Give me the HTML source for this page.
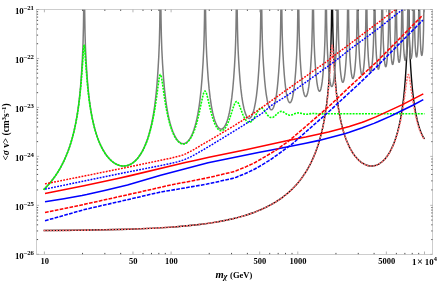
<!DOCTYPE html>
<html><head><meta charset="utf-8"><title>plot</title>
<style>
html,body{margin:0;padding:0;background:#fff;}
body{width:437px;height:282px;overflow:hidden;}
svg{display:block;filter:blur(0.3px);}
text{font-family:"Liberation Serif",serif;font-weight:bold;font-size:8.9px;fill:#000;}
</style></head><body>
<svg width="437" height="282" viewBox="0 0 437 282">
<rect width="437" height="282" fill="#fff"/>
<defs><clipPath id="c"><rect x="36.7" y="9.5" width="396.0" height="244.8"/></clipPath></defs>
<g clip-path="url(#c)" fill="none" stroke-linejoin="round">
<path d="M43.57 230.57L77.11 230.26L104.92 229.81L128.73 229.19L149.45 228.38L159 227.89L167.99 227.33L176.48 226.72L184.52 226.04L192.16 225.29L199.43 224.47L206.35 223.57L212.96 222.59L219.49 221.48L225.72 220.29L231.68 218.99L237.38 217.6L242.82 216.1L248.04 214.49L253.03 212.78L257.82 210.95L262.41 208.99L266.79 206.92L271 204.71L275.01 202.38L278.86 199.92L282.54 197.32L286.06 194.57L289.41 191.68L292.61 188.64L295.66 185.45L298.56 182.11L301.3 178.61L303.91 174.94L306.37 171.12L308.69 167.11L310.86 162.96L312.9 158.63L314.82 154.08L316.61 149.35L318.27 144.44L319.81 139.29L321.24 133.92L322.56 128.31L323.76 122.46L324.88 116.18L325.91 109.51L326.82 102.58L327.64 95.28L328.37 87.64L329.01 79.49L329.66 69.87L330.27 59.4L330.94 44.28L331.4 26.08L331.7 3.26L331.93 -30L332.27 -30L332.42 -4.34L332.63 15.68L332.92 32L333.32 45.83L333.85 57.63L334.67 71.22L335.51 82.56L336.42 92.4L337.53 101.79L338.81 110.41L340.27 118.4L341.07 122.13L341.93 125.74L342.84 129.22L343.8 132.5L344.81 135.66L345.85 138.64L346.98 141.53L348.14 144.25L349.36 146.84L350.61 149.25L351.91 151.5L353.26 153.62L354.65 155.57L356.08 157.37L357.57 159.03L359.07 160.5L360.61 161.82L362.18 162.95L363.78 163.92L365.38 164.7L367 165.3L368.61 165.72L370.23 165.96L371.85 166.01L373.47 165.87L375.07 165.55L376.63 165.05L378.16 164.38L379.66 163.53L381.15 162.5L382.6 161.31L384 159.95L385.38 158.42L386.73 156.71L388.02 154.86L389.28 152.84L390.5 150.66L391.68 148.31L392.8 145.84L393.89 143.19L394.94 140.37L395.93 137.44L397.57 131.88L399.05 125.92L400.4 119.48L401.64 112.44L402.73 105.04L403.7 97.04L404.56 88.43L405.32 79.02L406.06 67.87L406.71 56.35L407.13 46.81L407.43 37.14L407.7 24.77L407.91 10.08L408.21 -30L408.54 -30L408.56 -29.32L408.71 -3.8L408.92 16L409.19 31.33L409.55 44.34L410 55.11L410.69 67.09L411.49 78.61L412.33 88.34L413.32 97.44L414.46 105.75L415.76 113.26L417.2 119.99L417.99 123.06L418.82 126L419.68 128.67L420.58 131.15L421.51 133.43L422.48 135.51L423.47 137.35L424.5 138.98" stroke="#0c0c0c" stroke-width="1.4"/>
<path d="M43.57 230.57L73.85 230.3L99.4 229.92L121.51 229.41L140.94 228.75L158.42 227.92L174.16 226.9L181.45 226.31L188.42 225.67L195.07 224.97L201.43 224.22L207.72 223.37L213.74 222.46L219.51 221.48L225.05 220.42L230.37 219.29L235.47 218.08L240.39 216.79L245.11 215.42L249.66 213.96L254.04 212.41L258.27 210.76L262.33 209.02L266.23 207.19L269.99 205.26L273.61 203.23L277.07 201.1L280.52 198.78L283.81 196.36L287 193.8L290.02 191.13L292.92 188.35L295.7 185.42L298.35 182.38L300.88 179.19L303.28 175.89L305.57 172.44L307.74 168.84L309.8 165.1L311.74 161.22L313.57 157.19L315.28 153.02L316.9 148.67L318.33 144.42L319.66 140.04L320.92 135.46L322.1 130.68L323.21 125.68L324.21 120.58L325.17 115.16L326.04 109.55L327.4 99.27L328.58 88.06L329.72 74.33L331.4 49.92L331.76 46.4L331.93 45.52L332.08 45.25L332.23 45.49L332.39 46.21L332.73 49.31L334.73 77.16L335.51 86L336.35 94L337.3 101.62L338.37 108.8L339.53 115.4L340.82 121.63L342.39 127.97L344.1 133.83L345.99 139.25L346.98 141.76L348.02 144.2L349.11 146.51L350.23 148.7L351.4 150.77L352.61 152.76L353.85 154.59L355.13 156.3L356.44 157.88L357.78 159.33L359.76 161.18L361.78 162.74L363.83 164.01L365.93 164.98L368.04 165.64L370.16 166L372.25 166.04L374.35 165.77L376.39 165.2L378.4 164.32L380.39 163.13L382.31 161.65L384.18 159.88L385.99 157.82L387.74 155.47L389.41 152.85L390.86 150.26L392.25 147.46L393.59 144.43L394.84 141.23L396.04 137.81L397.2 134.13L398.29 130.29L399.34 126.17L400.29 122.02L401.19 117.7L402.04 113.13L402.88 108.21L404.16 99.76L406.33 83.5L407.07 78.56L407.4 76.87L407.7 75.65L408 74.87L408.29 74.57L408.44 74.59L408.6 74.74L408.9 75.39L409.22 76.55L409.57 78.23L410.29 82.78L412.33 97.29L413.45 104.42L414.94 112.46L416.54 119.57L417.41 122.9L418.33 126L419.28 128.88L420.25 131.49L421.26 133.87L422.31 136.03L423.4 137.95L424.5 139.61" stroke="#ff7070" stroke-width="1.6" stroke-dasharray="2.0 1.1"/>
<path d="M43.57 189.74L46.62 186.66L49.51 183.44L52.25 180.08L54.86 176.56L57.34 172.88L59.66 169.06L61.85 165.08L63.93 160.9L65.87 156.56L67.68 152.07L69.38 147.37L70.96 142.46L72.43 137.35L73.78 132.03L75.03 126.42L76.18 120.61L77.24 114.39L78.22 107.84L79.09 100.95L79.87 93.73L80.56 86.24L81.19 78.1L81.83 68.25L82.43 57.86L83.05 42.97L83.47 25.79L83.78 2.7L84.01 -30L84.33 -30L84.35 -29.1L84.6 6.6L85 32.24L85.42 46.49L86.04 59.82L86.65 69.86L87.28 78.79L87.91 86.37L88.6 93.35L89.38 100.06L90.25 106.44L91.21 112.36L92.25 117.96L93.45 123.48L94.75 128.61L96.16 133.44L97.68 137.97L99.32 142.19L101.07 146.11L102.94 149.71L104.9 152.96L107 155.93L109.19 158.55L110.31 159.71L111.47 160.8L112.63 161.77L113.82 162.66L115.02 163.44L116.22 164.12L117.43 164.7L118.65 165.17L119.87 165.54L121.11 165.8L122.33 165.96L123.55 166.01L124.73 165.96L125.91 165.81L127.09 165.56L128.25 165.21L129.4 164.77L130.54 164.22L131.66 163.57L132.77 162.84L133.85 162L134.92 161.08L137.02 158.93L139.02 156.42L140.94 153.53L142.75 150.33L144.46 146.78L146.08 142.88L147.59 138.7L149.02 134.11L150.33 129.24L151.55 124.02L152.67 118.45L153.7 112.53L154.63 106.27L155.47 99.68L156.23 92.61L156.9 85.29L157.53 77.09L158.18 67.16L158.75 56.99L159.36 42.23L159.78 24.46L160.08 0.15L160.27 -30L160.62 -30L160.81 -0.89L161.03 19.03L161.36 35.59L161.82 49.44L162.56 63.78L163.59 78.92L164.58 90.13L165.74 100.18L166.44 105.16L167.21 109.86L168.02 114.26L168.9 118.38L169.83 122.21L170.82 125.76L171.87 129.02L172.98 131.99L174.14 134.66L175.34 136.99L176.6 139.01L177.87 140.66L179.19 141.96L180.5 142.89L181.17 143.22L181.83 143.45L182.52 143.6L183.19 143.64L183.85 143.6L184.5 143.46L185.17 143.23L185.82 142.91L187.11 141.99L188.37 140.72L189.59 139.11L190.79 137.12L191.93 134.83L193.03 132.19L194.08 129.25L195.07 126.02L196.02 122.44L196.92 118.57L197.76 114.42L198.54 109.98L199.26 105.28L199.95 100.17L201.09 89.72L202.08 77.82L203.11 61.74L203.8 47.46L204.2 34.36L204.5 18L204.73 -2.89L204.9 -30L205.24 -30L205.4 -4.66L205.61 15.48L205.89 31.86L206.25 44.66L206.73 55.66L207.45 68.02L208.27 79.44L209.13 88.94L210.18 97.96L211.36 105.81L212.01 109.36L212.69 112.65L213.42 115.67L214.18 118.43L214.98 120.91L215.8 123.06L216.63 124.88L217.51 126.42L218.41 127.62L219.3 128.47L220.2 128.99L220.65 129.12L221.11 129.16L221.57 129.12L222.02 128.99L222.92 128.47L223.8 127.63L224.67 126.43L225.53 124.9L226.35 123.07L227.15 120.9L227.91 118.46L228.63 115.75L229.34 112.69L230.01 109.36L230.63 105.77L231.8 97.68L232.81 88.54L233.68 78.27L234.52 65.85L235.19 53.68L235.64 42.02L235.97 29.27L236.22 13.96L236.41 -4.97L236.56 -30L236.9 -30L237.05 -4.98L237.24 13.84L237.49 29.05L237.82 41.71L238.16 50.76L238.63 60.06L239.32 70.88L240.04 80.36L240.86 88.94L241.78 96.41L242.79 102.82L243.91 108.27L244.5 110.56L245.13 112.63L245.78 114.4L246.42 115.82L247.09 116.94L247.76 117.74L248.44 118.24L249.13 118.4L249.82 118.24L250.5 117.75L251.17 116.95L251.83 115.8L252.48 114.35L253.11 112.59L253.72 110.54L254.31 108.17L255.42 102.61L256.41 96.05L257.3 88.37L258.1 79.56L258.84 69.29L259.53 57.81L259.97 48.49L260.31 38.27L260.58 26.55L260.81 11.25L261.11 -30L261.45 -30L261.76 10.35L261.99 25.84L262.27 38.33L262.56 46.92L262.92 54.95L263.42 63.61L264.01 72.34L264.71 81L265.45 88.29L266.27 94.57L267.19 99.93L267.68 102.25L268.18 104.22L268.69 105.91L269.21 107.28L269.74 108.38L270.29 109.19L270.84 109.67L271.4 109.83L271.95 109.68L272.5 109.2L273.05 108.4L273.59 107.29L274.12 105.84L274.63 104.1L275.61 99.77L276.5 94.33L277.32 87.79L278.04 80.36L278.75 71.29L279.38 61.51L279.85 52.52L280.2 44.01L280.48 34.08L280.71 22.6L280.9 8.58L281.19 -30L281.51 -30L281.53 -29.91L281.8 8.01L282.01 23.24L282.25 35.15L282.77 50.31L283.59 65.02L284.23 74L284.9 81.53L285.61 87.81L286.35 92.91L287.19 97.17L287.62 98.87L288.06 100.23L288.52 101.32L288.98 102.09L289.43 102.56L289.89 102.71L290.37 102.55L290.84 102.05L291.3 101.25L291.76 100.11L292.2 98.7L292.63 96.94L293.47 92.5L294.21 87.15L294.92 80.52L295.59 72.54L296.23 63.03L296.69 54.97L297.03 47.36L297.32 38.85L297.55 29.42L297.91 4.26L298.14 -30L298.48 -30L298.75 6.89L299.15 32.23L299.59 46.73L300.21 59.41L300.79 68.06L301.4 75.68L302.02 81.99L302.67 87.04L303.38 91.14L303.76 92.82L304.14 94.18L304.52 95.23L304.92 96.01L305.3 96.45L305.7 96.61L306.1 96.46L306.5 96L306.9 95.21L307.3 94.09L307.68 92.69L308.06 90.95L308.77 86.71L309.41 81.46L310.04 74.86L310.65 66.89L311.22 57.79L311.59 50.64L311.87 43.36L312.31 25.95L312.61 3.27L312.84 -30L313.19 -30L313.43 5.97L313.81 30.9L314.2 44.35L314.71 55.71L315.21 63.72L315.76 71.07L316.33 77.26L316.92 82.27L317.53 86.13L318.18 88.97L318.5 89.96L318.84 90.7L319.19 91.14L319.53 91.28L319.87 91.13L320.21 90.69L320.56 89.94L320.88 88.94L321.53 86.05L322.16 81.95L322.75 76.76L323.32 70.32L323.89 62.38L324.37 54.23L324.92 40.63L325.32 23.23L325.61 0.2L325.8 -30L326.14 -30L326.35 1.08L326.61 22.42L327 39.34L327.55 53.17L327.97 60.36L328.48 67.5L329 73.33L329.53 78.12L330.06 81.73L330.63 84.42L330.92 85.34L331.21 86.01L331.49 86.41L331.8 86.55L332.1 86.41L332.39 86.01L332.69 85.3L332.98 84.35L333.55 81.6L334.1 77.74L334.63 72.76L335.17 66.45L335.68 58.95L336.08 51.64L336.58 38.45L336.94 21.75L337.21 -0.38L337.4 -30L337.74 -30L337.93 -0.5L338.2 21.53L338.56 38.13L339.05 51.18L339.41 57.71L339.85 64.06L340.33 69.7L340.82 74.37L341.32 77.88L341.81 80.34L342.06 81.19L342.33 81.84L342.58 82.19L342.84 82.32L343.11 82.18L343.38 81.76L343.64 81.08L343.89 80.18L344.41 77.51L344.9 73.81L345.4 68.92L345.89 62.74L346.33 55.98L346.67 49.26L347.11 36.76L347.45 20.11L347.7 -1.12L347.89 -30L348.23 -30L348.41 -1.99L348.65 19.49L349 36.21L349.45 49.1L349.78 55.3L350.16 61.09L350.6 66.49L351.05 70.97L351.49 74.23L351.95 76.63L352.41 78.04L352.63 78.4L352.86 78.51L353.11 78.38L353.34 78.01L353.8 76.55L354.25 74.09L354.71 70.57L355.17 65.92L355.61 60.31L355.99 54.25L356.31 47.64L356.73 35.02L357.05 18.47L357.28 -1.75L357.47 -30L357.8 -30L357.99 -1.38L358.21 18.54L358.54 34.88L358.96 47.31L359.59 58.58L359.97 63.47L360.39 67.76L360.79 70.89L361.21 73.22L361.62 74.61L361.83 74.96L362.04 75.09L362.27 74.96L362.48 74.61L362.92 73.13L363.34 70.73L363.76 67.33L364.18 62.87L364.58 57.49L365.19 45.82L365.57 33.76L365.87 17.72L366.1 -2.99L366.27 -30L366.61 -30L366.79 -2.43L367.01 17.91L367.32 33.69L367.72 46.01L368.29 56.64L368.63 61.16L369.01 65.15L369.4 68.18L369.78 70.32L370.16 71.59L370.35 71.9L370.54 72L370.75 71.87L370.94 71.52L371.34 70.08L371.74 67.67L372.12 64.43L372.5 60.2L372.84 55.38L373.4 44.26L373.76 32.22L374.04 16.58L374.25 -2.62L374.42 -30L374.77 -30L374.94 -2.83L375.15 16.32L375.45 32.69L375.83 44.81L376.35 54.76L377 62.64L377.34 65.47L377.7 67.59L378.04 68.79L378.21 69.1L378.4 69.22L378.6 69.1L378.79 68.74L379.15 67.4L379.51 65.17L379.87 62.01L380.21 58.08L380.54 53.34L381.03 42.86L381.4 30.12L381.66 14.62L381.85 -3.52L382.02 -30L382.37 -30L382.52 -4.29L382.73 15.44L383.01 31.29L383.38 43.34L383.85 52.99L384.44 60.43L384.77 63.18L385.09 65.13L385.41 66.3L385.59 66.61L385.76 66.71L385.93 66.59L386.1 66.26L386.44 64.96L386.79 62.78L387.11 59.86L387.72 51.65L388.18 41.55L388.5 29.92L388.77 14.4L388.96 -3.82L389.13 -30L389.45 -30L389.47 -29.51L389.6 -6.45L389.81 14.15L390.08 29.61L390.44 42.19L390.88 51.41L391.41 58.38L391.72 61.05L392.02 62.93L392.33 64.05L392.48 64.33L392.63 64.43L392.8 64.31L392.96 64.02L393.28 62.76L393.6 60.64L393.91 57.8L394.46 50.04L394.9 39.84L395.2 28.29L395.45 13.29L395.64 -5.59L395.8 -30L396.14 -30L396.29 -4.68L396.48 13.72L396.75 29.27L397.07 40.81L397.47 49.66L397.97 56.45L398.25 59.06L398.54 60.88L398.82 61.97L398.96 62.23L399.11 62.34L399.26 62.25L399.41 61.96L399.72 60.75L400.02 58.69L400.31 55.94L400.82 48.37L401.22 38.63L401.53 26.55L401.76 12.11L402.08 -30L402.42 -30L402.58 -5.29L402.77 13.32L403.01 28.08L403.34 39.93L403.72 48.54L404.18 54.94L404.44 57.4L404.71 59.1L404.98 60.1L405.11 60.35L405.24 60.42L405.4 60.3L405.53 60.01L405.81 58.82L406.1 56.79L406.37 54.09L406.82 47.08L407.2 37.47L407.49 25.85L407.72 11.12L408.04 -30L408.37 -30L408.39 -29.05L408.52 -6.24L408.71 12.71L408.96 27.62L409.26 38.96L409.62 47.36L410.04 53.39L410.27 55.59L410.52 57.27L410.77 58.28L410.9 58.55L411.03 58.64L411.17 58.55L411.3 58.27L411.57 57.15L411.83 55.23L412.08 52.67L412.52 45.73L412.88 36.25L413.15 25.12L413.38 10.06L413.68 -30L414.02 -30L414.33 10.61L414.56 25.32L414.86 37.41L415.2 45.8L415.6 51.84L415.83 54.1L416.06 55.68L416.29 56.63L416.4 56.88L416.54 56.98L416.67 56.88L416.8 56.58L417.05 55.47L417.3 53.6L417.53 51.14L417.93 44.57L418.27 35.35L418.54 23.9L418.75 9.83L419.05 -30L419.4 -30L419.7 10.73L419.93 25.31L420.21 36.67L420.52 44.36L420.9 50.38L421.32 54.07L421.55 55.07L421.66 55.32L421.78 55.41L421.89 55.34L421.99 55.15L422.2 54.35L422.6 51.16L422.88 47.3L423.13 42.49L423.53 29.95L423.91 6.04L424.16 -29.68L424.18 -30L424.5 -30" stroke="#7c7c7c" stroke-width="1.5"/>
<path d="M43.57 189.75L45.99 187.33L48.34 184.8L50.57 182.2L52.73 179.48L54.82 176.65L56.79 173.75L58.69 170.74L60.48 167.67L62.19 164.48L63.83 161.18L65.39 157.75L66.88 154.2L68.3 150.53L69.64 146.73L70.91 142.81L72.1 138.76L73.14 134.88L74.15 130.78L75.08 126.62L75.94 122.42L77.54 113.33L78.95 103.45L80 94.57L80.93 85.02L81.89 72.91L83.46 50.02L83.83 46.39L83.98 45.59L84.13 45.26L84.2 45.28L84.28 45.41L84.43 46.03L84.76 48.88L86.89 78.19L87.74 87.65L88.67 96.16L89.72 104.08L90.91 111.6L92.25 118.64L93.7 125.04L94.56 128.35L95.49 131.62L96.46 134.71L97.46 137.64L98.51 140.42L99.62 143.13L100.78 145.67L101.97 148.07L103.2 150.31L104.5 152.47L105.84 154.47L107.22 156.32L108.64 158.02L110.09 159.57L111.58 160.97L113.07 162.18L114.71 163.31L116.39 164.26L118.06 165L119.74 165.55L121.41 165.9L123.09 166.05L124.77 166.01L126.44 165.76L128.08 165.33L129.72 164.68L131.32 163.85L132.89 162.83L134.41 161.63L135.94 160.2L137.39 158.62L138.81 156.86L140.15 154.98L141.45 152.91L142.72 150.67L143.95 148.25L145.14 145.65L146.26 142.95L147.34 140.07L148.38 137.01L149.39 133.76L150.32 130.46L151.25 126.84L152.1 123.19L153.74 115.16L155.27 106.22" stroke="#00e000" stroke-opacity="0.3" stroke-width="1.5"/>
<path d="M43.57 189.75L45.99 187.33L48.33 184.8L50.58 182.19L52.73 179.48L54.79 176.69L56.77 173.79L58.67 170.77L60.48 167.66L62.22 164.43L63.85 161.13L65.42 157.7L66.9 154.16L68.31 150.5L69.64 146.72L70.9 142.82L72.1 138.75L73.15 134.85L74.14 130.82L75.07 126.65L75.95 122.35L77.55 113.25L78.96 103.41L79.99 94.65L80.9 85.3L81.89 72.95L83.45 50.09L83.82 46.5L83.99 45.57L84.14 45.26L84.29 45.45L84.46 46.24L84.84 49.82L86.41 72.08L87.38 83.83L88.25 92.52L89.21 100.39L90.54 109.42L92.04 117.65L92.86 121.48L93.74 125.19L94.67 128.76L95.64 132.13L96.79 135.7L97.99 139.07L99.24 142.23L100.58 145.25L101.97 148.06L103.43 150.72L104.96 153.17L106.52 155.41L108.16 157.47L109.83 159.31L111.57 160.96L113.34 162.38L115.15 163.58L116.98 164.54L118.83 165.28L120.67 165.77L122.41 166.01L124.12 166.05L125.82 165.88L127.51 165.5L129.19 164.91L130.83 164.13L132.43 163.15L134.01 161.97L135.55 160.59L137.03 159.03L138.5 157.26L139.91 155.33L141.28 153.19L142.6 150.9L143.87 148.41L145.11 145.71L146.16 143.19L147.17 140.54L148.14 137.74L149.09 134.74L150.86 128.38L152.48 121.46L153.97 113.94L155.36 105.65L156.39 98.64L158.39 83.6L159.09 78.86L159.45 76.93L159.78 75.63L160.08 74.86L160.23 74.65L160.39 74.56L160.54 74.61L160.71 74.8L161.03 75.57L161.38 76.91L161.74 78.8L162.37 82.82L164.79 99.84L165.74 105.67L166.71 110.96L167.61 115.28L168.54 119.29L169.51 122.99L170.54 126.45L171.85 130.26L173.22 133.63L174.65 136.54L176.14 139L176.9 140.05L177.68 141L178.46 141.81L179.24 142.49L180.04 143.06L180.84 143.5L181.64 143.81L182.44 143.99L183.17 144.05L183.87 144.01L184.58 143.86L185.28 143.62L185.99 143.28L186.69 142.83L188.06 141.66L189.42 140.09L190.73 138.14L192.01 135.83L193.26 133.11L194.39 130.28L195.47 127.14L196.52 123.71L197.57 119.86L199.17 113.16L202.14 99.01L203.19 94.63L203.66 93.09L204.1 92.02L204.52 91.36L204.73 91.18L204.94 91.1L205.15 91.13L205.36 91.25L205.8 91.82L206.25 92.83L206.75 94.32L207.62 97.65L209.99 107.97L211.3 113.23L212.77 118.26L214.25 122.43L215.05 124.29L215.85 125.9L216.67 127.3L217.49 128.45L218.33 129.37L219.17 130.06L220.01 130.5L220.84 130.7L221.57 130.69L222.31 130.49L223.03 130.12L223.76 129.58L224.48 128.86L225.21 127.96L225.93 126.89L226.63 125.66L227.99 122.84L229.38 119.31L230.65 115.59L233.19 107.64L234.27 104.67L234.88 103.33L235.45 102.39L236.01 101.81L236.29 101.65L236.56 101.58L237.05 101.69L237.57 102.1L238.1 102.82L238.69 103.89L239.72 106.29L241.89 112.09L242.9 114.62L243.97 116.98L244.98 118.85L246.01 120.35L247.02 121.43L247.51 121.81L248.02 122.1L248.52 122.28L249.03 122.36L249.89 122.27L250.75 121.91L251.61 121.27L252.5 120.34L253.4 119.15L254.35 117.64L257.49 111.79L258.65 109.88L259.3 109.04L259.91 108.46L260.5 108.1L261.09 107.95L261.61 108.01L262.12 108.23L262.67 108.63L263.24 109.19L264.27 110.48L267.01 114.42L267.81 115.41L268.56 116.18L269.28 116.78L269.99 117.2L270.69 117.47L271.4 117.57L271.97 117.54L272.54 117.41L273.13 117.18L273.74 116.84L275.07 115.81L277.72 113.24L278.82 112.31L279.45 111.9L280.04 111.61L280.61 111.44L281.19 111.37L282.14 111.49L283.19 111.9L284.14 112.45L286.5 114.04L287.74 114.69L288.86 115.07L289.97 115.21L290.96 115.14L292.04 114.87L295.28 113.56L296.37 113.2L297.32 113L298.25 112.92L299.11 112.97L300.02 113.11L303.97 114.06L305.87 114.23L307.59 114.13L311.32 113.6L313.07 113.51L314.61 113.56L318.12 113.84L319.81 113.89L326.18 113.7L332.21 113.79L337.95 113.75L424.5 113.76" stroke="#00ff00" stroke-width="1.6" stroke-dasharray="1.95 1.15"/>
<path d="M45 193.5L83.87 185.82L118.95 178.23L129.38 175.87L185.32 162.57L194.8 160.51L209.02 157.29L246.95 149.4L286.77 140.77L305.73 137.02L328.49 131.98L345.55 127.54L349.35 126.46L361.67 122.47L364.52 121.41L375.89 116.9L402.44 104.64L423.3 93.9" stroke="#ff0000" stroke-width="1.55"/>
<path d="M45 201.7L63.96 198.66L81.98 195.55L86.72 194.58L105.68 190.23L127.49 184.91L160.67 175.27L208.08 162.82L258.33 152.54L271.6 150.04L305.73 143.32L318.06 140.62L320.9 139.95L345.55 133.45L349.35 132.32L361.67 128L374 123.36L377.79 121.8L390.12 116.34L393.91 114.56L412.87 105.2L423.3 99.6" stroke="#0000ff" stroke-width="1.55"/>
<path d="M45 212.6L86.64 203.85L128.28 194.63L171.81 184.76L205.88 178.21L210.61 177.17L232.38 171.96L234.27 171.42L236.17 170.75L245.63 166.92L252.25 163.89L255.09 162.48L260.77 159.24L274.02 151.43L276.86 149.53L287.27 142.08L290.11 139.81L303.36 128.54L323.23 111.39L330.8 104.68L349.73 86.64L373.39 64.9L376.23 62.22L422.6 15.3" stroke="#ff0000" stroke-width="1.55" stroke-dasharray="3.7 1.3"/>
<path d="M45 220.7L62.05 215.98L82.89 209.99L85.74 209.25L127.42 199.73L158.68 192.43L162.47 191.68L180.47 188.71L207 184.07L209.84 183.49L232.58 178.38L234.47 177.84L236.37 177.17L244.89 173.73L247.74 172.47L252.47 170.21L255.32 168.76L261.95 164.91L268.58 160.86L271.42 159.02L283.74 150.17L291.32 144.64L294.16 142.28L304.58 133L327.32 113.03L360.47 82.41L373.74 69.6L377.53 65.85L389.84 53.35L423 20" stroke="#0000ff" stroke-width="1.55" stroke-dasharray="3.7 1.3"/>
<path d="M45 183.9L123.3 168.14L170.45 158.22L180.24 155.77L182.91 154.98L185.58 153.85L190.91 151.19L192.69 150.27L194.47 149.25L202.48 144.42L209.6 140.35L231.84 127.1L252.31 114.16L255.86 111.79L287.89 88.98L324.37 63.21L327.04 61.22L335.05 55L350.18 43.71L400 6.1" stroke="#ff0000" stroke-width="1.45" stroke-dasharray="1.85 1.25"/>
<path d="M45 189.1L119.4 173.73L159.32 165.83L172.02 163.18L176.55 162.08L179.28 161.37L181.09 160.83L182.9 160.18L186.53 158.71L188.35 157.94L191.07 156.66L193.79 155.21L201.05 151.06L205.59 148.35L208.31 146.83L211.03 145.21L240.06 127.45L260.02 114.71L261.84 113.5L264.56 111.32L269.1 107.24L271.82 105.11L286.33 96.03L289.06 94.23L332.6 62.93L340.77 56.63L349.84 49.4L376.15 30.16L400.65 11.03L407 6.2" stroke="#0000ff" stroke-width="1.45" stroke-dasharray="1.85 1.25"/>
</g>
<g stroke="#222" stroke-width="0.8" fill="none">
<path d="M82.54 254.30V252.90 M82.54 9.50V10.90"/><path d="M104.85 254.30V252.90 M104.85 9.50V10.90"/><path d="M120.68 254.30V252.90 M120.68 9.50V10.90"/><path d="M142.99 254.30V252.90 M142.99 9.50V10.90"/><path d="M151.47 254.30V252.90 M151.47 9.50V10.90"/><path d="M158.82 254.30V252.90 M158.82 9.50V10.90"/><path d="M165.30 254.30V252.90 M165.30 9.50V10.90"/><path d="M209.24 254.30V252.90 M209.24 9.50V10.90"/><path d="M231.55 254.30V252.90 M231.55 9.50V10.90"/><path d="M247.38 254.30V252.90 M247.38 9.50V10.90"/><path d="M269.69 254.30V252.90 M269.69 9.50V10.90"/><path d="M278.17 254.30V252.90 M278.17 9.50V10.90"/><path d="M285.52 254.30V252.90 M285.52 9.50V10.90"/><path d="M292.00 254.30V252.90 M292.00 9.50V10.90"/><path d="M335.94 254.30V252.90 M335.94 9.50V10.90"/><path d="M358.25 254.30V252.90 M358.25 9.50V10.90"/><path d="M374.08 254.30V252.90 M374.08 9.50V10.90"/><path d="M396.39 254.30V252.90 M396.39 9.50V10.90"/><path d="M404.87 254.30V252.90 M404.87 9.50V10.90"/><path d="M412.22 254.30V252.90 M412.22 9.50V10.90"/><path d="M418.70 254.30V252.90 M418.70 9.50V10.90"/><path d="M36.70 239.56H38.10 M432.70 239.56H431.30"/><path d="M36.70 230.94H38.10 M432.70 230.94H431.30"/><path d="M36.70 224.82H38.10 M432.70 224.82H431.30"/><path d="M36.70 220.08H38.10 M432.70 220.08H431.30"/><path d="M36.70 216.20H38.10 M432.70 216.20H431.30"/><path d="M36.70 212.92H38.10 M432.70 212.92H431.30"/><path d="M36.70 210.08H38.10 M432.70 210.08H431.30"/><path d="M36.70 207.58H38.10 M432.70 207.58H431.30"/><path d="M36.70 189.90H38.10 M432.70 189.90H431.30"/><path d="M36.70 180.86H38.10 M432.70 180.86H431.30"/><path d="M36.70 174.45H38.10 M432.70 174.45H431.30"/><path d="M36.70 169.48H38.10 M432.70 169.48H431.30"/><path d="M36.70 165.42H38.10 M432.70 165.42H431.30"/><path d="M36.70 161.99H38.10 M432.70 161.99H431.30"/><path d="M36.70 159.01H38.10 M432.70 159.01H431.30"/><path d="M36.70 141.64H38.10 M432.70 141.64H431.30"/><path d="M36.70 133.02H38.10 M432.70 133.02H431.30"/><path d="M36.70 126.90H38.10 M432.70 126.90H431.30"/><path d="M36.70 122.16H38.10 M432.70 122.16H431.30"/><path d="M36.70 118.28H38.10 M432.70 118.28H431.30"/><path d="M36.70 115.00H38.10 M432.70 115.00H431.30"/><path d="M36.70 112.16H38.10 M432.70 112.16H431.30"/><path d="M36.70 109.66H38.10 M432.70 109.66H431.30"/><path d="M36.70 92.68H38.10 M432.70 92.68H431.30"/><path d="M36.70 84.06H38.10 M432.70 84.06H431.30"/><path d="M36.70 77.94H38.10 M432.70 77.94H431.30"/><path d="M36.70 73.20H38.10 M432.70 73.20H431.30"/><path d="M36.70 69.32H38.10 M432.70 69.32H431.30"/><path d="M36.70 66.04H38.10 M432.70 66.04H431.30"/><path d="M36.70 63.20H38.10 M432.70 63.20H431.30"/><path d="M36.70 60.70H38.10 M432.70 60.70H431.30"/><path d="M36.70 43.72H38.10 M432.70 43.72H431.30"/><path d="M36.70 35.10H38.10 M432.70 35.10H431.30"/><path d="M36.70 28.98H38.10 M432.70 28.98H431.30"/><path d="M36.70 24.24H38.10 M432.70 24.24H431.30"/><path d="M36.70 20.36H38.10 M432.70 20.36H431.30"/><path d="M36.70 17.08H38.10 M432.70 17.08H431.30"/><path d="M36.70 14.24H38.10 M432.70 14.24H431.30"/><path d="M36.70 11.74H38.10 M432.70 11.74H431.30"/>
</g>
<g stroke="#777" stroke-width="0.55" fill="none">
<path d="M44.40 254.30V251.50 M44.40 9.50V12.30"/><path d="M132.96 254.30V251.50 M132.96 9.50V12.30"/><path d="M171.10 254.30V251.50 M171.10 9.50V12.30"/><path d="M259.66 254.30V251.50 M259.66 9.50V12.30"/><path d="M297.80 254.30V251.50 M297.80 9.50V12.30"/><path d="M386.36 254.30V251.50 M386.36 9.50V12.30"/><path d="M424.50 254.30V251.50 M424.50 9.50V12.30"/><path d="M36.70 254.30H39.10 M432.70 254.30H430.30"/><path d="M36.70 205.34H39.10 M432.70 205.34H430.30"/><path d="M36.70 156.38H39.10 M432.70 156.38H430.30"/><path d="M36.70 107.42H39.10 M432.70 107.42H430.30"/><path d="M36.70 58.46H39.10 M432.70 58.46H430.30"/><path d="M36.70 9.50H39.10 M432.70 9.50H430.30"/>
</g>
<rect x="36.7" y="9.5" width="396.0" height="244.8" fill="none" stroke="#9c9c9c" stroke-width="0.5"/>
<g>
<text x="44.70" y="263.6" text-anchor="middle" style="font-size:8.5px">10</text><text x="133.26" y="263.6" text-anchor="middle" style="font-size:8.5px">50</text><text x="171.40" y="263.6" text-anchor="middle" style="font-size:8.5px">100</text><text x="259.96" y="263.6" text-anchor="middle" style="font-size:8.5px">500</text><text x="298.10" y="263.6" text-anchor="middle" style="font-size:8.5px">1000</text><text x="386.66" y="263.6" text-anchor="middle" style="font-size:8.5px">5000</text><text x="412.1" y="264.5">1<tspan dx="0.5" style="font-size:10.4px">×</tspan><tspan dx="1.9">10</tspan><tspan dy="-3.6" style="font-size:6.4px">4</tspan></text><text x="34.0" y="258.60" text-anchor="end">10<tspan dy="-4.1" style="font-size:6.8px">–26</tspan></text><text x="34.0" y="209.64" text-anchor="end">10<tspan dy="-4.1" style="font-size:6.8px">–25</tspan></text><text x="34.0" y="160.68" text-anchor="end">10<tspan dy="-4.1" style="font-size:6.8px">–24</tspan></text><text x="34.0" y="111.72" text-anchor="end">10<tspan dy="-4.1" style="font-size:6.8px">–23</tspan></text><text x="34.0" y="62.76" text-anchor="end">10<tspan dy="-4.1" style="font-size:6.8px">–22</tspan></text><text x="34.0" y="13.80" text-anchor="end">10<tspan dy="-4.1" style="font-size:6.8px">–21</tspan></text>
<text x="215.4" y="277.8" font-style="italic" style="font-size:10.6px">m</text><text x="223.5" y="279.3" font-style="italic" style="font-size:8.4px">χ</text><text x="230.1" y="277.8" style="font-size:8.5px">(GeV)</text>
<text transform="translate(9.2 132.0) rotate(-90)" text-anchor="middle" style="font-size:9.4px">&lt;<tspan font-style="italic">σ</tspan> v&gt; (cm<tspan dy="-3.4" style="font-size:6.8px">3</tspan><tspan dy="3.4">s</tspan><tspan dy="-3.4" style="font-size:6.8px">–1</tspan><tspan dy="3.4">)</tspan></text>
</g>
</svg>
</body></html>
